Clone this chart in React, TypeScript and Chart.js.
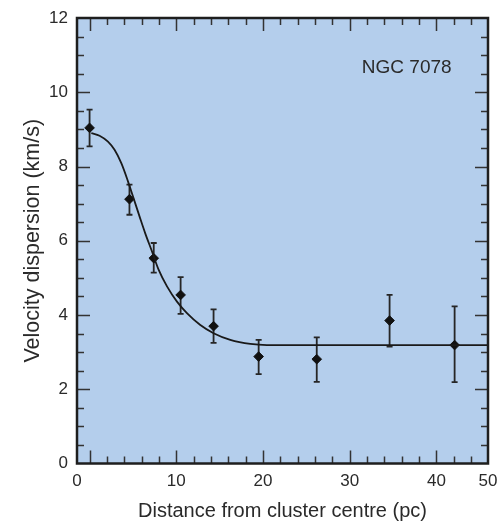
import React, { useEffect, useRef } from 'react';
import { Chart, registerables } from 'chart.js';

Chart.register(...registerables);

// ---- data ----
const distance = [0, 4.6, 7.4, 10.5, 14.3, 19.5, 26.2, 34.6, 42.1];
const dispersion = [9.04, 7.12, 5.53, 4.54, 3.7, 2.88, 2.81, 3.85, 3.19];
const errUpper = [9.53, 7.51, 5.94, 5.02, 4.15, 3.33, 3.4, 4.54, 4.23];
const errLower = [8.54, 6.7, 5.14, 4.03, 3.25, 2.41, 2.2, 3.15, 2.19];

const fitX = [0.2, 1.15, 2.12, 2.88, 3.66, 4.43, 5.01, 5.77, 6.42, 7.2, 7.96, 8.93, 10.08, 11.23, 12.77, 14.3, 16.23, 18.54, 20.46, 45.95];
const fitY = [8.9, 8.83, 8.67, 8.45, 8.09, 7.6, 7.19, 6.65, 6.2, 5.71, 5.22, 4.77, 4.36, 4.05, 3.73, 3.51, 3.33, 3.22, 3.19, 3.19];

const X_MIN = -1.45;
const X_MAX = 45.95;
const xTickValues = [X_MIN, 10, 20, 30, 40, X_MAX];
const xTickLabels = ['0', '10', '20', '30', '40', '50'];
const Y_MIN = 0;
const Y_MAX = 12;

const clusterLabel = 'NGC 7078';
const labelAt = { x: 31.4, y: 10.65 };

// ---- styles ----
const FONT = '"Liberation Sans", Arial, Helvetica, sans-serif';
const TEXT = '#2a2a2a';
const BG = 'rgb(180, 206, 236)';
const DARK = '#1e1e1e';

const plotDecor = {
  id: 'plotDecor',
  beforeDraw(chart: any) {
    const { ctx, chartArea: a } = chart;
    ctx.save();
    ctx.fillStyle = BG;
    ctx.fillRect(a.left, a.top, a.right - a.left, a.bottom - a.top);
    ctx.restore();
  },
  beforeDatasetsDraw(chart: any) {
    const { ctx, scales } = chart;
    const x = scales.x, y = scales.y;
    ctx.save();
    ctx.strokeStyle = '#262626';
    ctx.lineWidth = 1.8;
    for (let i = 0; i < distance.length; i++) {
      const px = x.getPixelForValue(distance[i]);
      const pt = y.getPixelForValue(errUpper[i]);
      const pb = y.getPixelForValue(errLower[i]);
      ctx.beginPath();
      ctx.moveTo(px, pt);
      ctx.lineTo(px, pb);
      ctx.moveTo(px - 3, pt);
      ctx.lineTo(px + 3, pt);
      ctx.moveTo(px - 3, pb);
      ctx.lineTo(px + 3, pb);
      ctx.stroke();
    }
    ctx.restore();
  },
  afterDatasetsDraw(chart: any) {
    const { ctx, chartArea: a, scales } = chart;
    const x = scales.x, y = scales.y;
    ctx.save();
    ctx.strokeStyle = '#333333';
    ctx.lineWidth = 1.5;
    ctx.beginPath();
    for (let v = 0; v <= 44; v += 2) {
      const len = v % 10 === 0 ? 13 : 7;
      const px = Math.round(x.getPixelForValue(v)) + 0.5;
      ctx.moveTo(px, a.bottom);
      ctx.lineTo(px, a.bottom - len);
      ctx.moveTo(px, a.top);
      ctx.lineTo(px, a.top + len);
    }
    for (let k = 1; k < 24; k++) {
      const v = k * 0.5;
      const len = k % 4 === 0 ? 13 : 7;
      const py = Math.round(y.getPixelForValue(v)) + 0.5;
      ctx.moveTo(a.left, py);
      ctx.lineTo(a.left + len, py);
      ctx.moveTo(a.right, py);
      ctx.lineTo(a.right - len, py);
    }
    ctx.stroke();
    ctx.strokeStyle = DARK;
    ctx.lineWidth = 2.5;
    ctx.strokeRect(a.left, a.top, a.right - a.left, a.bottom - a.top);
    ctx.fillStyle = TEXT;
    ctx.font = `19px ${FONT}`;
    ctx.textAlign = 'left';
    ctx.textBaseline = 'middle';
    ctx.fillText(clusterLabel, x.getPixelForValue(labelAt.x), y.getPixelForValue(labelAt.y));
    ctx.restore();
  },
};

export default function App() {
  const ref = useRef<HTMLCanvasElement>(null);
  useEffect(() => {
    const canvas = ref.current;
    if (!canvas) return;
    const chart = new Chart(canvas, {
      type: 'scatter',
      data: {
        datasets: [
          {
            type: 'line',
            data: fitX.map((v, i) => ({ x: v, y: fitY[i] })),
            borderColor: '#1a1a1a',
            borderWidth: 1.8,
            pointRadius: 0,
            fill: false,
            cubicInterpolationMode: 'monotone',
          } as any,
          {
            data: distance.map((v, i) => ({ x: v, y: dispersion[i] })),
            pointStyle: 'rectRot',
            pointRadius: 4.8,
            pointBackgroundColor: '#111111',
            pointBorderColor: '#111111',
            pointBorderWidth: 1,
            showLine: false,
          },
        ],
      },
      options: {
        animation: false,
        responsive: true,
        maintainAspectRatio: false,
        layout: { padding: { left: 0, top: 18, right: 11, bottom: 0 } },
        plugins: { legend: { display: false }, tooltip: { enabled: false } },
        scales: {
          x: {
            type: 'linear',
            min: X_MIN,
            max: X_MAX,
            grid: { display: false, drawTicks: false },
            border: { display: false },
            afterBuildTicks: (s: any) => {
              s.ticks = xTickValues.map((v) => ({ value: v }));
            },
            afterFit: (s: any) => {
              s.height = 57.5;
              s.paddingLeft = 0;
              s.paddingRight = 0;
            },
            ticks: {
              autoSkip: false,
              maxRotation: 0,
              padding: 8,
              color: TEXT,
              font: { family: FONT, size: 17 },
              callback: (_v: any, i: number) => xTickLabels[i],
            },
            title: {
              display: true,
              text: 'Distance from cluster centre (pc)',
              color: TEXT,
              font: { family: FONT, size: 20, lineHeight: 1 },
              padding: { top: 0, bottom: 0 },
            },
          },
          y: {
            type: 'linear',
            min: Y_MIN,
            max: Y_MAX,
            grid: { display: false, drawTicks: false },
            border: { display: false },
            afterFit: (s: any) => {
              s.width = 77;
              s.paddingTop = 0;
              s.paddingBottom = 0;
            },
            ticks: {
              stepSize: 2,
              padding: 9,
              color: TEXT,
              font: { family: FONT, size: 17 },
            },
            title: {
              display: true,
              text: 'Velocity dispersion (km/s)',
              color: TEXT,
              font: { family: FONT, size: 21.5, lineHeight: 1 },
              padding: { top: 22, bottom: 0 },
            },
          },
        },
      },
      plugins: [plotDecor],
    } as any);
    return () => chart.destroy();
  }, []);
  return (
    <div style={{ position: 'fixed', left: 0, top: 0, width: 499, height: 521, background: '#fff' }}>
      <canvas ref={ref} />
    </div>
  );
}
